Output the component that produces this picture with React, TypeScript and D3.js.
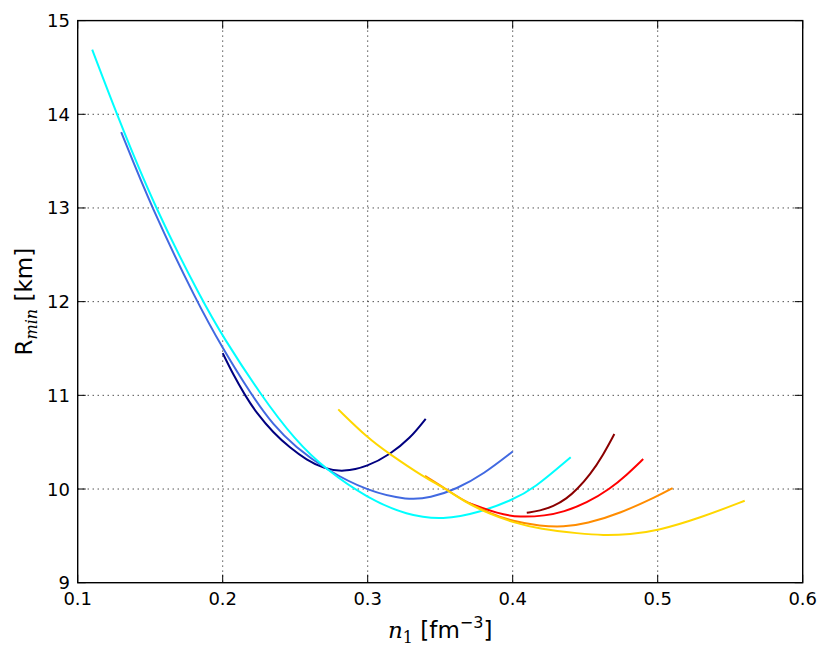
import * as d3 from 'd3';

// n1 [fm^-3] and Rmin [km]
const navyN = [0.2, 0.2073, 0.2154, 0.2234, 0.2349, 0.2464, 0.2579, 0.2694, 0.2832, 0.3, 0.3154, 0.3292, 0.34];
const navyR = [11.45, 11.22, 11.0, 10.81, 10.6, 10.44, 10.31, 10.22, 10.18, 10.24, 10.37, 10.54, 10.75];

const blueN = [0.13, 0.151, 0.1821, 0.2, 0.22, 0.235, 0.25, 0.271, 0.3, 0.328, 0.343, 0.3614, 0.38, 0.4];
const blueR = [13.81, 13.0, 12.0, 11.5, 11.0, 10.68, 10.45, 10.21, 9.975, 9.88, 9.905, 10.0, 10.16, 10.4];

const cyanN = [0.11, 0.1269, 0.1533, 0.1862, 0.2, 0.2264, 0.25, 0.271, 0.3, 0.327, 0.352, 0.3775, 0.4, 0.4142, 0.44];
const cyanR = [14.69, 14.0, 13.0, 12.0, 11.63, 11.0, 10.52, 10.21, 9.9, 9.72, 9.67, 9.75, 9.886, 10.0, 10.34];

const darkredN = [0.4097, 0.4188, 0.428, 0.4372, 0.4446, 0.4533, 0.4625, 0.4701];
const darkredR = [9.747, 9.768, 9.814, 9.896, 10.0, 10.15, 10.366, 10.587];

const redN = [0.37, 0.39, 0.405, 0.4226, 0.435, 0.451, 0.467, 0.4786, 0.49];
const redR = [9.85, 9.735, 9.697, 9.715, 9.755, 9.85, 10.0, 10.15, 10.32];

const orangeN = [0.3395, 0.354, 0.366, 0.3843, 0.4, 0.419, 0.435, 0.451, 0.474, 0.5, 0.5103];
const orangeR = [10.14, 10.0, 9.875, 9.74, 9.655, 9.605, 9.595, 9.63, 9.74, 9.925, 10.01];

const goldN = [0.2797, 0.3, 0.3154, 0.3384, 0.354, 0.366, 0.3843, 0.4, 0.419, 0.446, 0.462, 0.481, 0.5, 0.529, 0.56];
const goldR = [10.85, 10.544, 10.37, 10.13, 10.0, 9.87, 9.73, 9.645, 9.57, 9.525, 9.505, 9.515, 9.555, 9.69, 9.875];

const xTicks = [0.1, 0.2, 0.3, 0.4, 0.5, 0.6];
const yTicks = [9, 10, 11, 12, 13, 14, 15];

const series = [
  { n: navyN, r: navyR, color: '#000080' },
  { n: blueN, r: blueR, color: '#4169e1' },
  { n: cyanN, r: cyanR, color: '#00ffff' },
  { n: darkredN, r: darkredR, color: '#8b0000' },
  { n: redN, r: redR, color: '#ff0000' },
  { n: orangeN, r: orangeR, color: '#ff8c00' },
  { n: goldN, r: goldR, color: '#ffd700' },
];

const W = 830;
const H = 656;
const left = 77.7;
const right = 802.7;
const top = 20.6;
const bottom = 582.7;
const tickLen = 8;
const sans = 'DejaVu Sans, sans-serif';
const serif = 'DejaVu Serif, serif';

export default function App() {
  const x = d3.scaleLinear().domain([0.1, 0.6]).range([left, right]);
  const y = d3.scaleLinear().domain([9, 15]).range([bottom, top]);

  const line = d3
    .line<[number, number]>()
    .x((d) => x(d[0]))
    .y((d) => y(d[1]))
    .curve(d3.curveBasis);

  return (
    <svg
      width={W}
      height={H}
      style={{ position: 'absolute', left: 0, top: 0, background: '#fff' }}
    >
      {/* grid */}
      <g stroke="#000" strokeWidth={1} strokeDasharray="1,4" fill="none">
        {xTicks.slice(1, -1).map((t) => (
          <line key={'gx' + t} x1={x(t)} x2={x(t)} y1={top} y2={bottom} />
        ))}
        {yTicks.slice(1, -1).map((t) => (
          <line key={'gy' + t} x1={left} x2={right} y1={y(t)} y2={y(t)} />
        ))}
      </g>

      {/* curves */}
      <g fill="none" strokeWidth={2} strokeLinecap="butt">
        {series.map((s, i) => (
          <path
            key={i}
            d={line(s.n.map((v, j) => [v, s.r[j]] as [number, number])) || ''}
            stroke={s.color}
          />
        ))}
      </g>

      {/* ticks, inward on all sides */}
      <g stroke="#000" strokeWidth={1}>
        {xTicks.map((t) => (
          <g key={'tx' + t}>
            <line x1={x(t)} x2={x(t)} y1={bottom} y2={bottom - tickLen} />
            <line x1={x(t)} x2={x(t)} y1={top} y2={top + tickLen} />
          </g>
        ))}
        {yTicks.map((t) => (
          <g key={'ty' + t}>
            <line x1={left} x2={left + tickLen} y1={y(t)} y2={y(t)} />
            <line x1={right} x2={right - tickLen} y1={y(t)} y2={y(t)} />
          </g>
        ))}
      </g>

      {/* frame */}
      <rect
        x={left}
        y={top}
        width={right - left}
        height={bottom - top}
        fill="none"
        stroke="#000"
        strokeWidth={1.4}
      />

      {/* tick labels */}
      <g fontFamily={sans} fontSize={18} fill="#000">
        {xTicks.map((t) => (
          <text key={'lx' + t} x={x(t)} y={605} textAnchor="middle">
            {d3.format('.1f')(t)}
          </text>
        ))}
        {yTicks.map((t) => (
          <text key={'ly' + t} x={70} y={y(t) + 6.5} textAnchor="end">
            {t}
          </text>
        ))}
      </g>

      {/* axis labels */}
      <text
        x={(left + right) / 2}
        y={638}
        textAnchor="middle"
        fontFamily={sans}
        fontSize={23}
        fill="#000"
      >
        <tspan fontFamily={serif} fontStyle="italic">n</tspan>
        <tspan fontFamily={serif} fontSize={16} dy={5}>1</tspan>
        <tspan dy={-5}> [fm</tspan>
        <tspan fontSize={16} dy={-10}>−3</tspan>
        <tspan dy={10}>]</tspan>
      </text>
      <text
        transform={`translate(31.5,${(top + bottom) / 2}) rotate(-90)`}
        textAnchor="middle"
        fontFamily={sans}
        fontSize={23}
        fill="#000"
      >
        R
        <tspan fontFamily={serif} fontStyle="italic" fontSize={16} dy={5}>min</tspan>
        <tspan dy={-5}> [km]</tspan>
      </text>
    </svg>
  );
}
